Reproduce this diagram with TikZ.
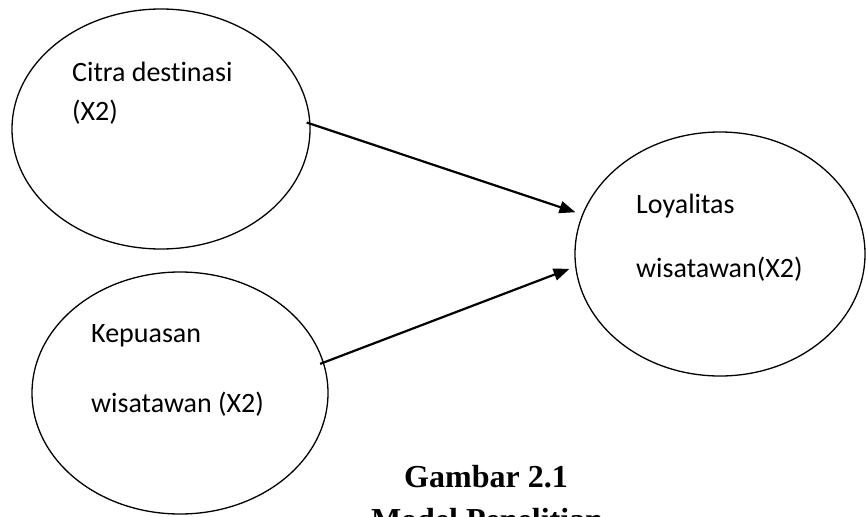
\documentclass[tikz,border=0pt]{standalone}
\usepackage{fontspec}
\setmainfont{Carlito}[Ligatures={NoCommon,NoRare,NoDiscretionary}]
\newfontfamily\capfont{Liberation Serif}
\usepackage{tikz}
\usetikzlibrary{arrows.meta,shapes.geometric,positioning}

\tikzset{
  var/.style={ellipse,draw,line width=1.3pt,inner sep=0pt},
  lbl/.style={anchor=base west,inner sep=0pt,font=\fontsize{28}{30}\selectfont},
  path/.style={-{Triangle[length=16pt,width=12pt]},line width=2.2pt}
}

\begin{document}
\begin{tikzpicture}[x=1pt,y=-1pt]
   \useasboundingbox (0,0) rectangle (866,516);
   \clip (0,0) rectangle (866,516);
   \node[var,minimum width=298pt,minimum height=240pt] (citra) at (161,129) {};
   \node[var,minimum width=296pt,minimum height=242pt] (puas) at (180,393) {};
   \node[var,minimum width=290pt,minimum height=244pt] (loyal) at (720,254) {};
   \node[lbl] (citra1) at (72,82) {Citra destinasi};
   \node[lbl] (citra2) at (72,121) {(X2)};
   \node[lbl] (puas1) at (91,342) {Kepuasan};
   \node[lbl] (puas2) at (91,412) {wisatawan (X2)};
   \node[lbl] (loyal1) at (636,213) {Loyalitas};
   \node[lbl] (loyal2) at (636,277) {wisatawan(X2)};
   \path[path] 
    (citra.2) edge[shorten <=-4pt,shorten >=7pt] (loyal.164.5)
    (puas.12) edge[shorten <=-4pt,shorten >=6pt] (loyal.185);
   \node[anchor=base,font=\capfont\bfseries\fontsize{32}{34}\selectfont] (fig) at (486,487) {Gambar 2.1};
   \node[anchor=base,font=\capfont\bfseries\fontsize{32}{34}\selectfont] (title) at (487,530) {Model Penelitian};
\end{tikzpicture}
\end{document}
